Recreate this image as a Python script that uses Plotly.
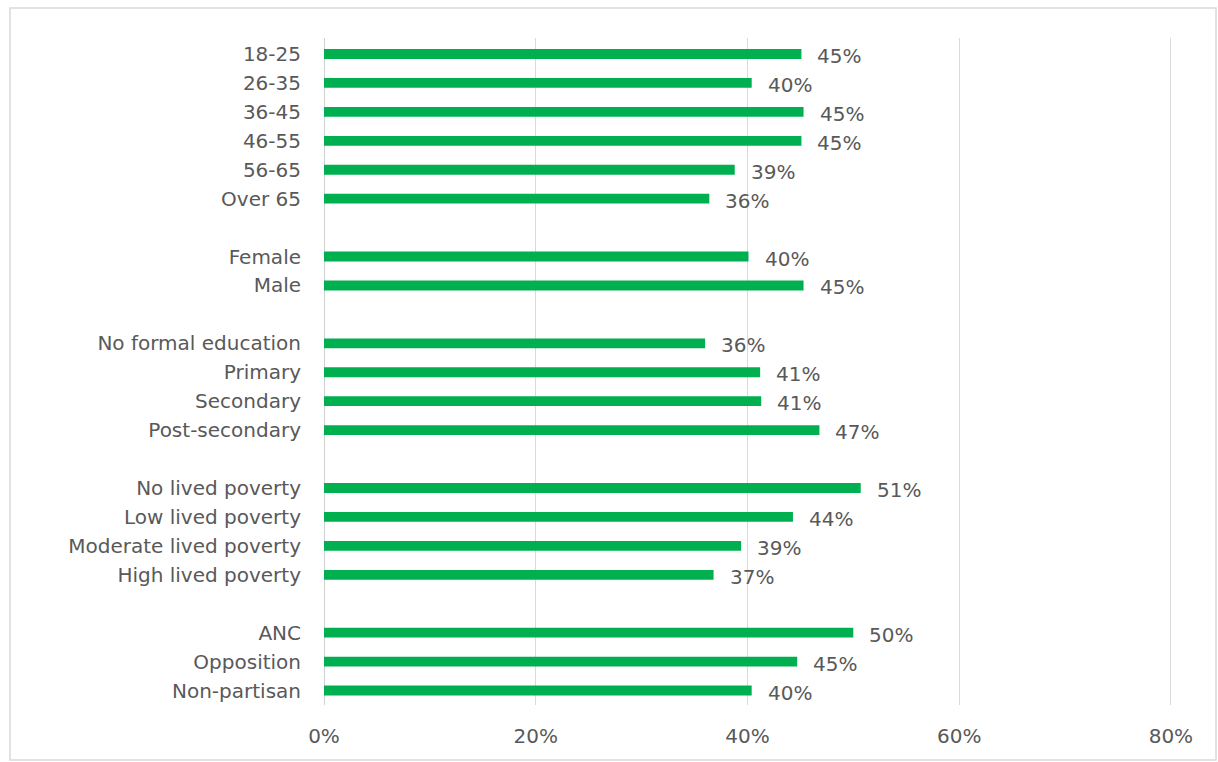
import plotly.graph_objects as go

categories = ["18-25", "26-35", "36-45", "46-55", "56-65", "Over 65", " ",
              "Female", "Male", "  ",
              "No formal education", "Primary", "Secondary", "Post-secondary", "   ",
              "No lived poverty", "Low lived poverty", "Moderate lived poverty", "High lived poverty", "    ",
              "ANC", "Opposition", "Non-partisan"]
values = [45.1, 40.4, 45.3, 45.1, 38.8, 36.4, None,
          40.1, 45.3, None,
          36.0, 41.2, 41.3, 46.8, None,
          50.7, 44.3, 39.4, 36.8, None,
          50.0, 44.7, 40.4]
labels = ["45%", "40%", "45%", "45%", "39%", "36%", "",
          "40%", "45%", "",
          "36%", "41%", "41%", "47%", "",
          "51%", "44%", "39%", "37%", "",
          "50%", "45%", "40%"]
x_ticks = [0, 20, 40, 60, 80]
x_tick_labels = ["0%", "20%", "40%", "60%", "80%"]

FONT = "DejaVu Sans"
GRAY = "#595959"

fig = go.Figure()
fig.add_trace(go.Bar(
    y=categories, x=values, orientation="h",
    marker=dict(color="#00B050", line=dict(width=0)),
    width=0.34,
    hoverinfo="skip",
))

for cat, val, lab in zip(categories, values, labels):
    if val is None:
        continue
    fig.add_annotation(x=val, y=cat, text=lab, showarrow=False,
                       xanchor="left", yanchor="middle", xshift=14, yshift=-2,
                       font=dict(family=FONT, size=20, color=GRAY))

fig.update_layout(
    width=1218, height=762,
    margin=dict(l=324, r=45, t=38, b=57),
    paper_bgcolor="white", plot_bgcolor="white",
    showlegend=False,
    font=dict(family=FONT, size=20, color=GRAY),
)
fig.update_xaxes(
    range=[0, 80.2], tickvals=x_ticks, ticktext=x_tick_labels,
    showgrid=True, gridcolor="#d9d9d9", gridwidth=1,
    zeroline=True, zerolinecolor="#d0d0d0", zerolinewidth=1,
    showline=False, ticks="", ticklabelstandoff=17,
    tickfont=dict(family=FONT, size=20, color=GRAY),
)
fig.update_yaxes(
    categoryorder="array", categoryarray=categories, autorange="reversed",
    showgrid=False, zeroline=False, showline=False, ticks="",
    ticklabelstandoff=22,
    tickfont=dict(family=FONT, size=20, color=GRAY),
)
fig.add_shape(type="rect", xref="paper", yref="paper",
              x0=(10 - 324) / 849, x1=(1216 - 324) / 849,
              y0=-(760 - 705) / 667, y1=1 + (38 - 8) / 667,
              line=dict(color="#d9d9d9", width=1.5), layer="below")

fig.write_html("out.html")
